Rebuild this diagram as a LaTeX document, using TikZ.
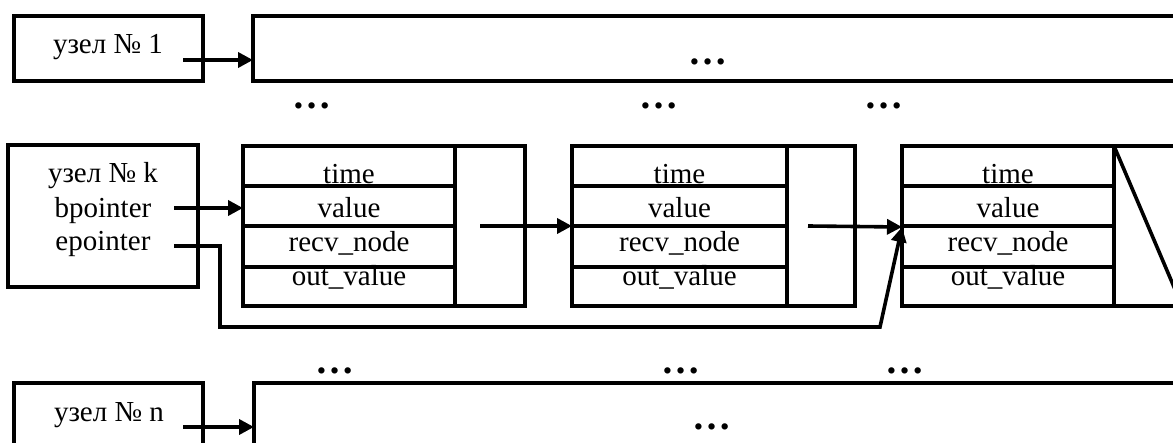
\documentclass[tikz,border=0pt]{standalone}
\usepackage{fontspec}
\setmainfont{Liberation Serif}
\usetikzlibrary{arrows.meta}
\begin{document}
\begin{tikzpicture}[x=1pt,y=-1pt,
  lw/.style={line width=3.6pt},
  box/.style={lw, draw},
  ptr/.style={lw, -{Triangle[length=15pt,width=15pt]}},
  lbl/.style={font=\fontsize{29}{34}\selectfont, anchor=base, inner sep=0pt},
  dotsn/.style={font=\fontsize{39}{42}\selectfont\bfseries, anchor=base, inner sep=0pt}
]
\useasboundingbox (0,0) rectangle (1173,443);
\clip (0,0) rectangle (1173,443);

% ---------- top row ----------
\draw[box] (14,16) rectangle (203,81);
\node[lbl] (t1) at (108,54) {узел № 1};
\draw[box] (1190,16) -- (253,16) -- (253,81) -- (1190,81);
\coordinate (a1s) at (183,60);
\coordinate (a1e) at (253,60);
\draw[ptr] (a1s) -- (a1e);
\node[dotsn] (d0) at (708,65) {…};

% dots row 1
\node[dotsn] (d11) at (312,109) {…};
\node[dotsn] (d12) at (659,109) {…};
\node[dotsn] (d13) at (884,109) {…};

% ---------- middle row ----------
\draw[box] (8,145) rectangle (198,287);
\node[lbl] (tk) at (103,183) {узел № k};
\node[lbl] (tb) at (103,218) {bpointer};
\node[lbl] (te) at (103,251) {epointer};

\foreach \x/\fr/\pr [count=\i] in {243/455/525, 572/787/855}{
  \draw[box] (\x,146) rectangle (\pr,306);
  \draw[box] (\fr,146) -- (\fr,306);
  \foreach \yy in {186,226,267} \draw[box] (\x,\yy) -- (\fr,\yy);
  \pgfmathsetmacro{\cx}{(\x+\fr)/2}
  \node[lbl] (r\i a) at (\cx,184) {time};
  \node[lbl] (r\i b) at (\cx,218) {value};
  \node[lbl] (r\i c) at (\cx,252) {recv\_node};
  \node[lbl] (r\i d) at (\cx,286) {out\_value};
}
% third record
\draw[box] (1190,146) -- (902,146) -- (902,306) -- (1190,306);
\draw[box] (1114,146) -- (1114,306);
\foreach \yy in {186,226,267} \draw[box] (902,\yy) -- (1114,\yy);
\node[lbl] (r3a) at (1008,184) {time};
\node[lbl] (r3b) at (1008,218) {value};
\node[lbl] (r3c) at (1008,252) {recv\_node};
\node[lbl] (r3d) at (1008,286) {out\_value};
\draw[box] (1114,146) -- (1190.6,326);

% pointers
\coordinate (bps) at (174,208);
\coordinate (r1in) at (243,208);
\draw[ptr] (bps) -- (r1in);
\coordinate (p1s) at (480,226);
\coordinate (r2in) at (572,226);
\draw[ptr] (p1s) -- (r2in);
\coordinate (p2s) at (808,226);
\coordinate (r3in) at (902,227);
\draw[ptr] (p2s) -- (r3in);
\coordinate (eps) at (174,246);
\coordinate (ebend) at (880,327);
\draw[ptr] (eps) -- (220,246) -- (220,327) -- (ebend) -- (r3in);

% dots row 2
\node[dotsn] (d21) at (335,374) {…};
\node[dotsn] (d22) at (681,374) {…};
\node[dotsn] (d23) at (905,374) {…};

% ---------- bottom row ----------
\draw[box] (14,470) -- (14,383) -- (203,383) -- (203,470);
\node[lbl] (tn) at (109,422) {узел № n};
\draw[box] (254,470) -- (254,383) -- (1190,383);
\coordinate (ans) at (183,427);
\coordinate (ane) at (254,427);
\draw[ptr] (ans) -- (ane);
\node[dotsn] (d3) at (712,430) {…};
\end{tikzpicture}
\end{document}
